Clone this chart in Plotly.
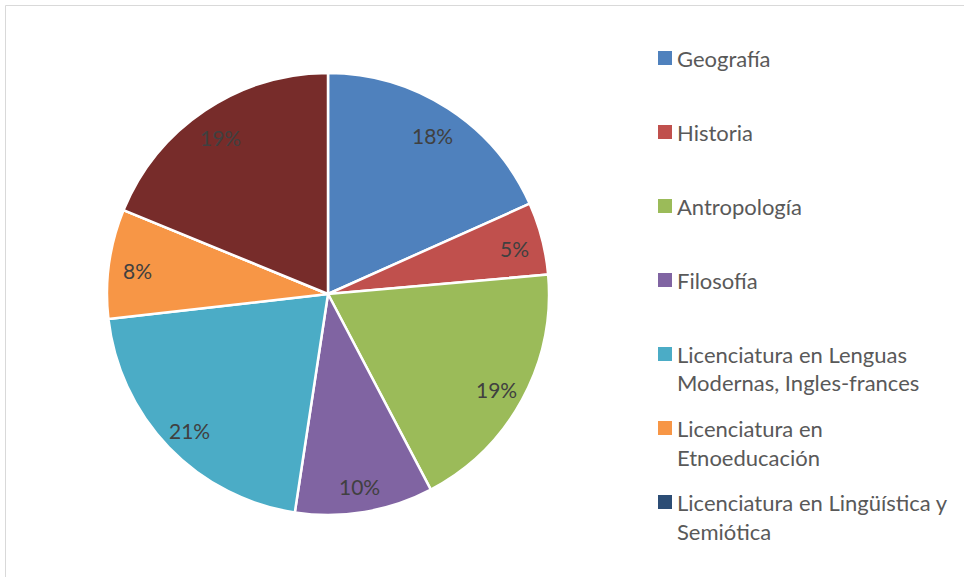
import math
import plotly.graph_objects as go

# ---- data ----
categories = [
    "Geografía",
    "Historia",
    "Antropología",
    "Filosofía",
    "Licenciatura en Lenguas Modernas, Ingles-frances",
    "Licenciatura en Etnoeducación",
    "Licenciatura en Lingüística y Semiótica",
    "Otros",
]
values = [18.3, 5.3, 18.7, 10.1, 20.8, 8.0, 0.0, 18.8]
colors = ["#4F81BD", "#C0504D", "#9BBB59", "#8064A2",
          "#4BACC6", "#F79646", "#2C4D75", "#772C2A"]
# legend shows only the first seven categories (as in the original)
legend_lines = [
    ["Geografía"],
    ["Historia"],
    ["Antropología"],
    ["Filosofía"],
    ["Licenciatura en Lenguas", "Modernas, Ingles-frances"],
    ["Licenciatura en", "Etnoeducación"],
    ["Licenciatura en Lingüística y", "Semiótica"],
]

W, H = 964, 577
FONT = "Lato"
CX, CY, R = 328, 294, 221

fig = go.Figure()
fig.add_trace(go.Pie(
    labels=categories,
    values=values,
    sort=False,
    direction="clockwise",
    rotation=0,
    marker=dict(colors=colors, line=dict(color="white", width=2.5)),
    textinfo="none",
    hoverinfo="label+percent",
    showlegend=False,
    domain=dict(x=[(CX - R) / W, (CX + R) / W],
                y=[1 - (CY + R) / H, 1 - (CY - R) / H]),
))

shapes = []
annotations = []
# chart border
shapes.append(dict(type="rect", xref="paper", yref="paper",
                   x0=5.5 / W, x1=1.2, y0=-0.2, y1=1 - 5.5 / H,
                   line=dict(color="#D9D9D9", width=1), fillcolor="rgba(0,0,0,0)"))

# data labels (percentages) placed near the outer part of each slice
total = sum(values)
cum = 0.0
for v in values:
    if v > 0:
        mid = (cum + v / 2) / total * 2 * math.pi
        rr = 0.87 * R
        px = CX + rr * math.sin(mid)
        py = CY - rr * math.cos(mid) + 3
        annotations.append(dict(xref="paper", yref="paper",
                                x=px / W, y=1 - py / H,
                                xanchor="center", yanchor="middle",
                                text=f"{round(v / total * 100):d}%", showarrow=False,
                                font=dict(family=FONT, size=21, color="#404040")))
    cum += v

item_y = [58, 132, 206, 280, 354, 428, 502]
line_gap = 29
for i, lines in enumerate(legend_lines):
    yc = item_y[i]
    shapes.append(dict(type="rect", xref="paper", yref="paper",
                       x0=658 / W, x1=672 / W,
                       y0=1 - (yc + 7) / H, y1=1 - (yc - 7) / H,
                       line=dict(width=0), fillcolor=colors[i]))
    for j, t in enumerate(lines):
        annotations.append(dict(xref="paper", yref="paper",
                                x=675 / W, y=1 - (yc + j * line_gap) / H,
                                xanchor="left", yanchor="middle",
                                text=t, showarrow=False,
                                font=dict(family=FONT, size=22, color="#595959")))

fig.update_layout(
    width=W, height=H,
    margin=dict(l=0, r=0, t=0, b=0),
    paper_bgcolor="white",
    plot_bgcolor="white",
    shapes=shapes,
    annotations=annotations,
)

fig.write_html("out.html", config={"displayModeBar": False},
               post_script="document.body.style.margin='0px';")
